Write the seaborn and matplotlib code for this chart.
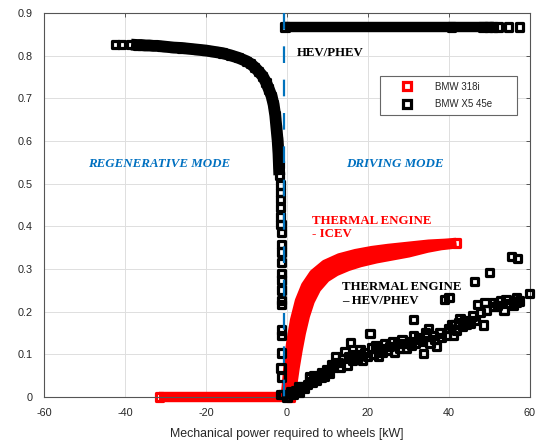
import matplotlib
matplotlib.use("Agg")
import numpy as np
import matplotlib.pyplot as plt
import seaborn as sns
from matplotlib.lines import Line2D

# ---------------- data ----------------
# BMW 318i (ICEV) - regenerative side: zero efficiency strip
icev_zero_x = [-31.5, 0.8]
icev_zero_y = [0.0, 0.0]
# BMW 318i thermal engine band: upper and lower envelopes
icev_up_x = [-0.3, 0.1, 0.5, 1.1, 2.0, 3.2, 4.7, 6.7, 9.5, 13.0, 17.0, 21.0, 25.0, 30.0, 35.0, 39.0, 41.8]
icev_up_y = [0.0, 0.04, 0.085, 0.13, 0.18, 0.225, 0.26, 0.288, 0.31, 0.325, 0.335, 0.342, 0.347, 0.352, 0.357, 0.359, 0.361]
icev_low_x = [0.8, 1.3, 1.9, 2.6, 3.4, 4.4, 5.6, 7.2, 9.5, 12.0, 15.0, 18.0, 22.0, 26.0, 30.0, 34.6, 38.0, 41.8]
icev_low_y = [0.0, 0.03, 0.07, 0.11, 0.15, 0.19, 0.225, 0.255, 0.28, 0.295, 0.307, 0.316, 0.325, 0.332, 0.339, 0.35, 0.356, 0.36]

# BMW X5 45e - electric machine in regenerative mode (dense curve)
regen_x = [-38.5, -37, -36, -35, -34, -33, -32, -31, -30, -28, -26, -24, -22, -20, -18, -16, -14, -12,
           -10, -9, -8, -7, -6, -5.2, -4.5, -3.8, -3.3, -2.9, -2.6, -2.3, -2.1, -2.0, -1.9]
regen_y = [0.826, 0.825, 0.825, 0.824, 0.824, 0.823, 0.823, 0.822, 0.821, 0.819, 0.818, 0.816, 0.814,
           0.812, 0.809, 0.806, 0.801, 0.795, 0.787, 0.781, 0.773, 0.763, 0.752, 0.738, 0.722, 0.705,
           0.685, 0.66, 0.63, 0.60, 0.57, 0.545, 0.52]
regen_pts_x = [-42.3, -40.8]
regen_pts_y = [0.827, 0.827]
# BMW X5 45e - sparse points near zero power
drop_x = [-1.7, -1.6, -1.6, -1.6, -1.6, -1.5, -1.4, -1.4, -1.3, -1.3, -1.3, -1.3, -1.3, -1.3, -1.3,
          -1.4, -1.4, -1.4, -1.5, -1.4, -1.5]
drop_y = [0.497, 0.48, 0.462, 0.445, 0.422, 0.405, 0.385, 0.358, 0.34, 0.316, 0.29, 0.274, 0.251,
          0.227, 0.216, 0.157, 0.145, 0.103, 0.068, 0.047, 0.005]
# BMW X5 45e - electric machine in driving mode (HEV/PHEV)
hev_line_x = [-0.5, 51.0]
hev_line_y = [0.867, 0.867]
hev_pts_x = [-0.5, 40.7, 48.4, 49.7, 51.0, 52.1, 54.6, 57.5]
hev_pts_y = [0.867, 0.867, 0.867, 0.867, 0.867, 0.867, 0.867, 0.867]
# BMW X5 45e - thermal engine (HEV/PHEV)
te_x = [-1.0, 0.0, 0.8, 1.5, 2.2, 2.8, 3.0, 3.5, 4.2, 5.0, 5.5, 5.7, 6.2, 6.5, 7.3, 8.0, 8.6, 8.6, 9.2,
        9.8, 10.1, 10.5, 11.0, 11.5, 11.9, 12.6, 13.2, 13.8, 14.3, 14.8, 15.3, 15.6, 16.2, 16.8, 17.4,
        18.0, 18.6, 19.2, 19.8, 20.5, 20.8, 21.4, 22.0, 22.6, 23.0, 23.6, 24.2, 24.8, 25.4, 26.0, 26.6,
        27.2, 27.8, 28.4, 29.1, 29.6, 30.2, 30.8, 31.2, 31.2, 31.8, 32.4, 32.8, 33.4, 33.7, 34.2, 34.5,
        34.9, 35.3, 36.1, 36.5, 37.0, 37.6, 38.2, 38.9, 40.0, 39.4, 39.8, 40.7, 41.1, 41.5, 41.9, 42.3,
        42.7, 43.3, 43.8, 44.4, 45.2, 45.8, 46.3, 46.4, 47.0, 47.7, 48.5, 48.9, 49.3, 50.0, 50.9, 51.1,
        52.0, 52.8, 53.6, 54.1, 55.0, 55.5, 56.0, 56.7, 56.7, 57.0, 57.5, 59.8]
te_y = [0.005, 0.0, 0.012, 0.005, 0.015, 0.024, 0.01, 0.025, 0.02, 0.03, 0.045, 0.048, 0.035, 0.051,
        0.04, 0.05, 0.056, 0.045, 0.048, 0.065, 0.063, 0.055, 0.075, 0.07, 0.094, 0.08, 0.07, 0.09, 0.106,
        0.075, 0.095, 0.127, 0.085, 0.10, 0.09, 0.11, 0.085, 0.105, 0.095, 0.149, 0.115, 0.10, 0.12,
        0.095, 0.114, 0.105, 0.125, 0.11, 0.118, 0.13, 0.105, 0.125, 0.115, 0.135, 0.126, 0.115, 0.13,
        0.12, 0.182, 0.145, 0.125, 0.14, 0.134, 0.13, 0.102, 0.15, 0.141, 0.161, 0.126, 0.145, 0.134,
        0.118, 0.15, 0.14, 0.229, 0.234, 0.145, 0.16, 0.169, 0.145, 0.17, 0.157, 0.175, 0.184, 0.165,
        0.18, 0.17, 0.173, 0.19, 0.270, 0.18, 0.216, 0.198, 0.169, 0.221, 0.204, 0.292, 0.221, 0.212,
        0.215, 0.225, 0.202, 0.229, 0.22, 0.33, 0.215, 0.234, 0.221, 0.325, 0.225, 0.243]

divider_x = [-0.7, -0.7]
divider_y = [0.9, 0.0]

series_names = ["BMW 318i", "BMW X5 45e"]
x_ticks = [-60, -40, -20, 0, 20, 40, 60]
y_ticks = [0, 0.1, 0.2, 0.3, 0.4, 0.5, 0.6, 0.7, 0.8, 0.9]
y_tick_labels = ["0", "0.1", "0.2", "0.3", "0.4", "0.5", "0.6", "0.7", "0.8", "0.9"]

# ---------------- styling ----------------
sns.set_style("white")
plt.rcParams["font.family"] = ["Liberation Sans", "DejaVu Sans"]
plt.rcParams["axes.unicode_minus"] = False

RED = "#ff0000"
BLK = "#000000"
BLUE = "#0072bd"
MS = 5.2      # marker side (pt)
MEW = 2.3     # marker edge width (pt)
BAND = MS + MEW

fig = plt.figure(figsize=(5.49, 4.43), dpi=100)
ax = fig.add_axes([44 / 549, 1 - 397 / 443, 486 / 549, 384 / 443])

def line(x, y, color, lw, z):
    sns.lineplot(x=x, y=y, sort=False, estimator=None, color=color, lw=lw, ax=ax,
                 zorder=z, solid_capstyle="butt", solid_joinstyle="round", clip_on=False)

def pts(x, y, color, z):
    sns.scatterplot(x=x, y=y, marker="s", s=MS ** 2, facecolor="none", edgecolor=color,
                    linewidth=MEW, ax=ax, zorder=z, clip_on=False, legend=False)

# red ICEV
ax.fill(list(icev_up_x) + list(icev_low_x[::-1]), list(icev_up_y) + list(icev_low_y[::-1]),
        color=RED, lw=0, zorder=2)
line(icev_up_x, icev_up_y, RED, BAND, 2)
line(icev_low_x, icev_low_y, RED, BAND, 2)
line(icev_zero_x, icev_zero_y, RED, BAND, 2)
pts(icev_zero_x, icev_zero_y, RED, 2.1)
pts([icev_up_x[-1]], [icev_up_y[-1]], RED, 2.1)

# black HEV/PHEV
line(regen_x, regen_y, BLK, 8.5, 3)
pts(regen_x, regen_y, BLK, 3.1)
pts(regen_pts_x, regen_pts_y, BLK, 3.1)
pts(drop_x, drop_y, BLK, 3.1)
line(hev_line_x, hev_line_y, BLK, BAND, 3)
pts(hev_pts_x, hev_pts_y, BLK, 3.1)
pts(te_x, te_y, BLK, 3.2)

# divider
ax.plot(divider_x, divider_y, color=BLUE, lw=1.6, dashes=(7.5, 7.5), zorder=5)

# axes
ax.set_xlim(-60, 60)
ax.set_ylim(0, 0.9)
ax.set_xticks(x_ticks)
ax.set_xticklabels([str(v) for v in x_ticks])
ax.set_yticks(y_ticks)
ax.set_yticklabels(y_tick_labels)
ax.grid(True, color="#dedede", lw=0.7)
ax.set_axisbelow(True)
ax.tick_params(direction="in", length=3, width=0.7, color="#555555", labelsize=7.8,
               labelcolor="#262626", pad=8, top=True, right=True)
for s in ax.spines.values():
    s.set_color("#555555")
    s.set_linewidth(0.8)
ax.set_xlabel("Mechanical power required to wheels [kW]", fontsize=8.9, color="#262626", labelpad=7)
ax.set_ylabel("")

# annotations
serif = ["Liberation Serif", "DejaVu Serif"]
ax.text(-31.6, 0.545, "REGENERATIVE MODE", color="#0070c0", fontsize=9.4, family=serif,
        weight="bold", style="italic", ha="center", va="center")
ax.text(26.7, 0.545, "DRIVING MODE", color="#0070c0", fontsize=9.4, family=serif,
        weight="bold", style="italic", ha="center", va="center")
ax.text(2.5, 0.806, "HEV/PHEV", color=BLK, fontsize=9.3, family=serif, weight="bold",
        ha="left", va="center")
ax.text(6.2, 0.398, "THERMAL ENGINE\n- ICEV", color=RED, fontsize=9.3, family=serif,
        weight="bold", ha="left", va="center", linespacing=1.15)
ax.text(13.6, 0.241, "THERMAL ENGINE\n\u2013 HEV/PHEV", color=BLK, fontsize=9.3, family=serif,
        weight="bold", ha="left", va="center", linespacing=1.15)

# legend
handles = [Line2D([], [], ls="none", marker="s", ms=MS, mew=MEW, mfc="white", mec=RED),
           Line2D([], [], ls="none", marker="s", ms=MS, mew=MEW, mfc="white", mec=BLK)]
leg = ax.legend(handles, series_names, loc="upper left",
                bbox_to_anchor=(0.691, 0.732, 0.282, 0.104), mode="expand",
                borderaxespad=0, fontsize=7, frameon=True, fancybox=False, framealpha=1,
                edgecolor="#666666", borderpad=0.6, handlelength=4.4, handletextpad=0.7,
                labelspacing=0.75)
leg.get_frame().set_linewidth(0.8)
for t in leg.get_texts():
    t.set_color("#262626")

fig.savefig("out.png", dpi=100, facecolor="white")
